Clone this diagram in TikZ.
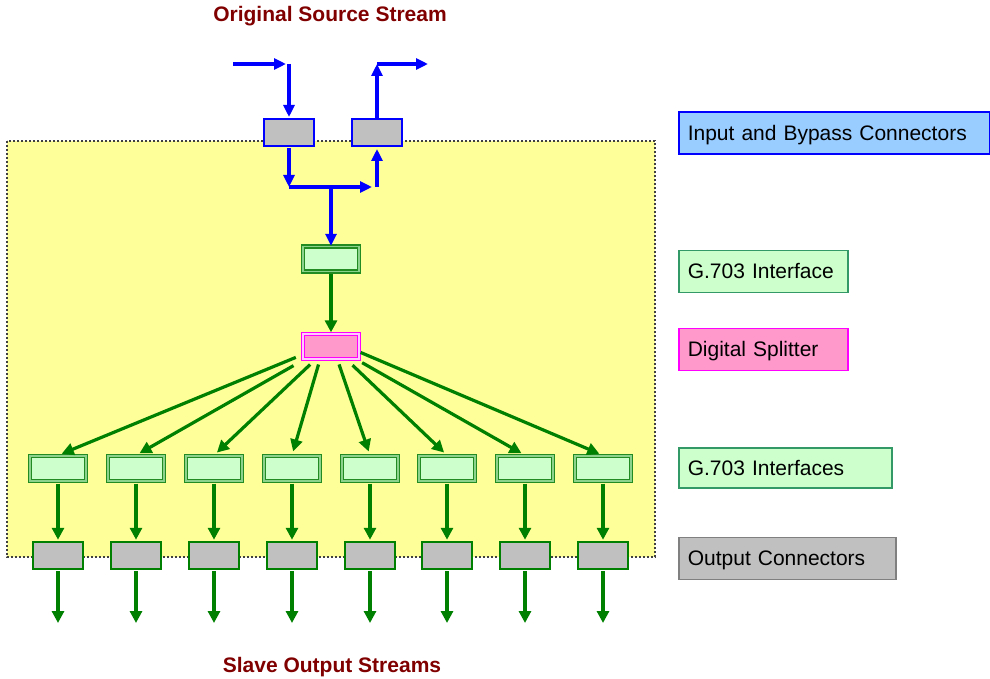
\documentclass[tikz,border=0pt]{standalone}
\usepackage{fontspec}
\setmainfont{Liberation Sans}
\usepackage{tikz}
\usetikzlibrary{
    arrows.meta,
    positioning,
    calc
}
\usepackage{xcolor}
\definecolor{flowblue}{RGB}{0,0,255}
\definecolor{flowgreen}{RGB}{0,128,0}
\definecolor{panelyellow}{RGB}{255,255,153}
\definecolor{paneledge}{RGB}{64,64,64}
\definecolor{conngray}{RGB}{192,192,192}
\definecolor{ifacefill}{RGB}{204,255,204}
\definecolor{ifacedark}{RGB}{34,139,34}
\definecolor{ifacemid}{RGB}{140,210,140}
\definecolor{splitfill}{RGB}{255,153,204}
\definecolor{splitline}{RGB}{255,0,255}
\definecolor{splitgap}{RGB}{255,204,255}
\definecolor{legblue}{RGB}{153,204,255}
\definecolor{leggreen}{RGB}{51,153,102}
\definecolor{leggray}{RGB}{128,128,128}
\definecolor{titlered}{RGB}{128,0,0}

\begin{document}
\begin{tikzpicture}[
    x=1pt, y=-1pt,
    inconn/.style={
        rectangle, draw=flowblue, line width=2pt, fill=conngray,
        minimum width=50pt, minimum height=27pt, inner sep=0pt
    },
    outconn/.style={
        rectangle, draw=flowgreen, line width=2.5pt, fill=conngray,
        minimum width=50pt, minimum height=27pt, inner sep=0pt
    },
    iface/.style={
        rectangle, draw=ifacedark, line width=1.4pt, double=ifacemid,
        double distance=1.5pt, fill=ifacefill,
        minimum width=56pt, minimum height=25pt, inner sep=0pt
    },
    splitbox/.style={
        rectangle, draw=splitline, line width=1.4pt, double=splitgap,
        double distance=1.5pt, fill=splitfill,
        minimum width=56pt, minimum height=25pt, inner sep=0pt
    },
    bflow/.style={-{Triangle[length=12pt, width=11pt]}, line width=4pt, draw=flowblue},
    gflow/.style={-{Triangle[length=12pt, width=12pt]}, line width=3.2pt, draw=flowgreen},
    legend/.style={
        rectangle, draw, line width=1.6pt, anchor=west,
        minimum height=42pt, inner xsep=9pt, align=left,
        text height=19pt, text depth=4.6pt,
        font=\fontsize{21}{25}\selectfont
    },
    heading/.style={anchor=base, font=\fontsize{21}{25}\selectfont\bfseries, text=titlered}
]
\useasboundingbox (0,0) rectangle (990,679);

% Splitter unit panel
\fill[panelyellow] (7,141) rectangle (655,557);
\draw[paneledge, line width=2pt, dash pattern=on 2pt off 2pt] (7,141) rectangle (655,557);

% Titles
\node[heading] (srctitle) at (330,22) {Original Source Stream};
\node[heading] (slavetitle) at (332,672) {Slave Output Streams};

% Input and bypass connectors
\node[inconn] (incon) at (289,132.5) {};
\node[inconn] (bypass) at (377,132.5) {};

% G.703 interface and splitter
\node[iface] (g0) at (331,259) {};
\node[splitbox] (split) at (331,346.5) {};

% Eight outputs
\foreach \i/\x in {1/58, 2/136, 3/214, 4/292, 5/370, 6/447, 7/525, 8/603} {
    \node[iface] (g\i) at (\x,468.5) {};
    \node[outconn] (o\i) at (\x,555.5) {};
    \coordinate (e\i) at (\x,623);
}

% Source stream in and out
\coordinate (srcA) at (233,64);
\coordinate (srcB) at (289,64);
\coordinate (tapA) at (289,187);
\coordinate (tapM) at (331,187);
\coordinate (tapB) at (377,187);
\coordinate (outB) at (377,64);
\coordinate (outA) at (428,64);

\draw[bflow, shorten >=3pt] (srcA) -- (srcB);
\draw[bflow, shorten >=1pt] (srcB) -- (incon.north);
\draw[bflow, shorten <=1pt] (incon.south) -- (tapA);
\draw[bflow, shorten >=5pt] (tapA) -- (tapB);
\draw[bflow, shorten >=2pt] (tapB) -- (bypass.south);
\draw[bflow] (tapM) -- (g0.north);
\draw[bflow] (bypass.north) -- (outB);
\draw[bflow] (outB) -- (outA);

% Splitting
\draw[gflow, shorten <=2pt, shorten >=1pt] (g0.south) -- (split.north);
\foreach \a/\i/\s in {196/1/7pt, 206/2/12pt, 220/3/7pt, 230/4/5pt, 296/5/5pt, 320/6/8pt, 333/7/6pt, 349/8/1pt}
    \draw[gflow, shorten <=\s, shorten >=4pt] (split.\a) -- (g\i.north);
\foreach \i in {1,...,8} {
    \draw[gflow, shorten <=2pt, shorten >=1pt] (g\i.south) -- (o\i.north);
    \draw[gflow, shorten <=1pt] (o\i.south) -- (e\i);
}

% Legend
\node[legend, fill=legblue, draw=flowblue, text width=293pt] (leginput) at (678,133) {Input and Bypass Connectors};
\node[legend, fill=ifacefill, draw=leggreen, text width=151pt] (legiface) at (678,271.5) {G.703 Interface};
\node[legend, fill=splitfill, draw=splitline, text width=151pt] (legsplit) at (678,349.5) {Digital Splitter};
\node[legend, fill=ifacefill, draw=leggreen, text width=195pt, minimum height=40pt] (legifaces) at (678,468) {G.703 Interfaces};
\node[legend, fill=conngray, draw=leggray, text width=199pt] (legout) at (678,558.5) {Output Connectors};

\end{tikzpicture}
\end{document}
